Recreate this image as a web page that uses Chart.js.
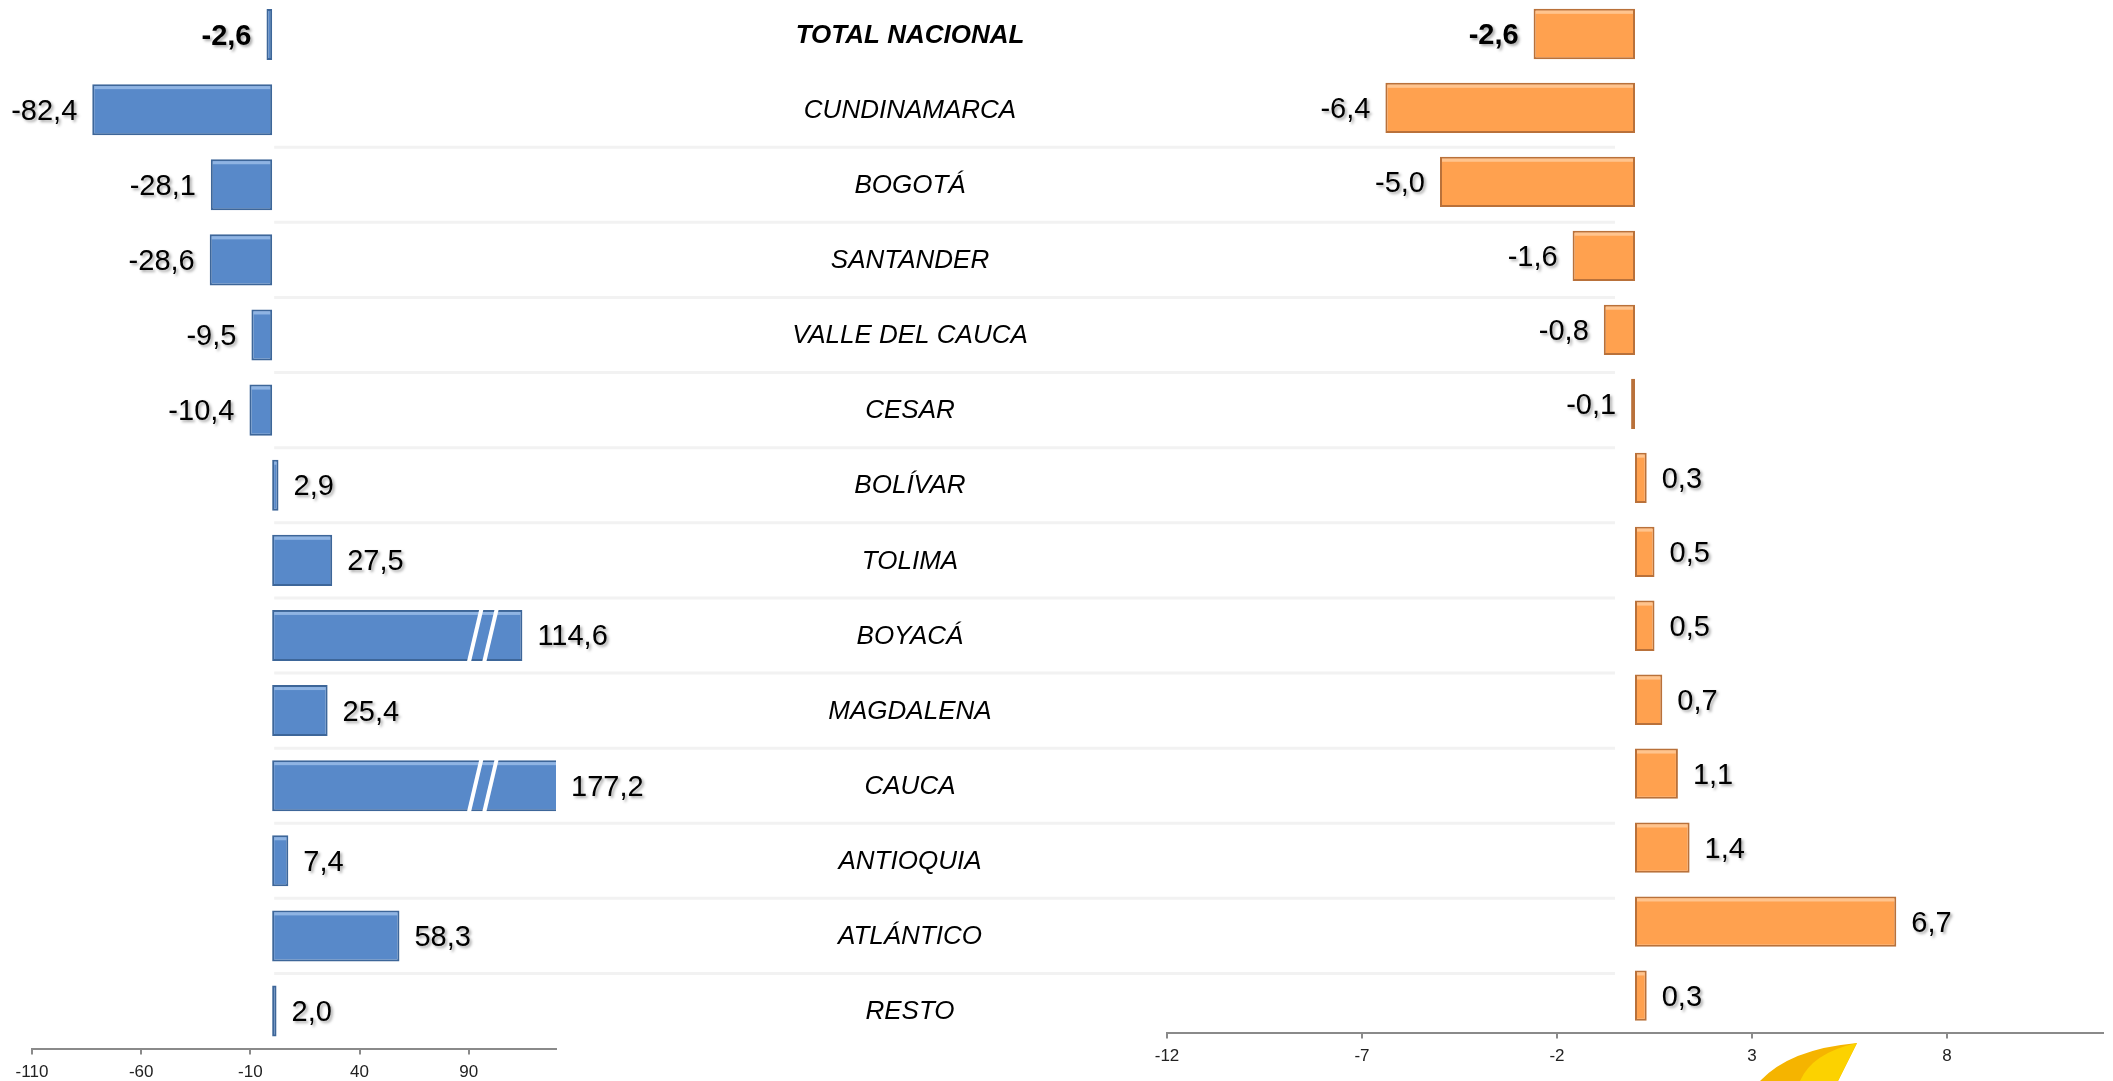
<!DOCTYPE html>
<html>
<head>
<meta charset="utf-8">
<script src="https://cdn.jsdelivr.net/npm/chart.js@4.4.1/dist/chart.umd.min.js"></script>
<style>
  html, body { margin: 0; padding: 0; background: #fff; overflow: hidden; }
  body { width: 2113px; height: 1081px; position: relative; }
  #leftChart  { position: absolute; left: 0;      top: -3px; }
  #rightChart { position: absolute; left: 1100px; top: -3px; }
</style>
</head>
<body>
<canvas id="leftChart"  width="1640" height="1094"></canvas>
<canvas id="rightChart" width="1013" height="1084"></canvas>

<script>
// ── Data ─────────────────────────────────────────────
const categories   = ["TOTAL NACIONAL", "CUNDINAMARCA", "BOGOTÁ", "SANTANDER", "VALLE DEL CAUCA", "CESAR",
                      "BOLÍVAR", "TOLIMA", "BOYACÁ", "MAGDALENA", "CAUCA", "ANTIOQUIA", "ATLÁNTICO", "RESTO"];
const variacion    = [-2.6, -82.4, -28.1, -28.6, -9.5, -10.4, 2.9, 27.5, 114.6, 25.4, 177.2, 7.4, 58.3, 2.0];
const contribucion = [-2.6, -6.4, -5.0, -1.6, -0.8, -0.1, 0.3, 0.5, 0.5, 0.7, 1.1, 1.4, 6.7, 0.3];
const leftTicks    = [-110, -60, -10, 40, 90];
const rightTicks   = [-12, -7, -2, 3, 8];
const brokenBars   = ["BOYACÁ", "CAUCA"];

const BLUE     = "#5889c9";
const BLUE_B   = "#3d6699";
const BLUE_HI  = "#8fb4e3";
const ORANGE   = "#ffa14f";
const ORANGE_B = "#b9713a";
const ORANGE_HI = "#ffc48e";
const FONT = "'Liberation Sans', Arial, sans-serif";

const fmt = v => v.toFixed(1).replace(".", ",");

// ticks exactly at the listed values (no automatic max tick)
const setTicks = list => scale => {
  scale.ticks = list.map(v => ({ value: v }));
};

// ── Value labels with soft shadow ─────────────────────────
const valueLabels = {
  id: "valueLabels",
  afterDatasetsDraw(chart) {
    const ctx  = chart.ctx;
    const area = chart.chartArea;
    const meta = chart.getDatasetMeta(0);
    const data = chart.data.datasets[0].data;
    ctx.save();
    ctx.textBaseline = "middle";
    meta.data.forEach((bar, i) => {
      const v = data[i];
      ctx.font = (i === 0 ? "bold " : "") + "29px " + FONT;
      ctx.shadowColor = "rgba(0,0,0,0.35)";
      ctx.shadowOffsetX = 2;
      ctx.shadowOffsetY = 2;
      ctx.shadowBlur = 3;
      ctx.fillStyle = "#000";
      const end = Math.max(area.left, Math.min(bar.x, area.right));
      if (v < 0) {
        ctx.textAlign = "right";
        ctx.fillText(fmt(v), end - 15, bar.y + 2);
      } else {
        ctx.textAlign = "left";
        ctx.fillText(fmt(v), end + 15, bar.y + 2);
      }
    });
    ctx.restore();
  }
};

// ── Bevel highlight on top edge of each bar ──────────────
const bevel = {
  id: "bevel",
  afterDatasetsDraw(chart) {
    const ctx  = chart.ctx;
    const area = chart.chartArea;
    const ds   = chart.data.datasets[0];
    ctx.save();
    ctx.beginPath();
    ctx.rect(area.left, area.top, area.right - area.left, area.bottom - area.top);
    ctx.clip();
    ctx.fillStyle = ds.highlight;
    chart.getDatasetMeta(0).data.forEach(bar => {
      const l = Math.min(bar.x, bar.base) + 2;
      const r = Math.max(bar.x, bar.base) - 2;
      if (r - l < 2) return;
      ctx.fillRect(l, bar.y - bar.height / 2 + 2, r - l, 3);
    });
    ctx.restore();
  }
};

// ── Category names in the middle + faint row separators ──
const middleLabels = {
  id: "middleLabels",
  beforeDatasetsDraw(chart) {
    const ctx = chart.ctx;
    const y   = chart.scales.y;
    const x0  = chart.scales.x.getPixelForValue(0);
    const band = y.getPixelForValue(1) - y.getPixelForValue(0);
    ctx.save();
    ctx.strokeStyle = "#f2f2f2";
    ctx.lineWidth = 3;
    for (let i = 1; i < categories.length - 1; i++) {
      const yy = y.getPixelForValue(i) + band / 2;
      ctx.beginPath();
      ctx.moveTo(x0 + 2, yy);
      ctx.lineTo(1615, yy);
      ctx.stroke();
    }
    ctx.restore();
  },
  afterDraw(chart) {
    const ctx = chart.ctx;
    const y   = chart.scales.y;
    ctx.save();
    ctx.fillStyle = "#000";
    ctx.textAlign = "center";
    ctx.textBaseline = "middle";
    categories.forEach((c, i) => {
      ctx.font = (i === 0 ? "bold italic " : "italic ") + "26px " + FONT;
      ctx.fillText(c, 910, y.getPixelForValue(i) + 1);
    });
    ctx.restore();
  }
};

// ── White "//" break marks on the out-of-range bars ──────
const breakMarks = {
  id: "breakMarks",
  afterDatasetsDraw(chart) {
    const ctx  = chart.ctx;
    const meta = chart.getDatasetMeta(0);
    const xs   = chart.scales.x;
    ctx.save();
    ctx.strokeStyle = "#fff";
    ctx.lineWidth = 4;
    brokenBars.forEach(name => {
      const bar = meta.data[categories.indexOf(name)];
      const h = bar.height / 2 + 2;
      [90, 97].forEach(v => {
        const px = xs.getPixelForValue(v);
        ctx.beginPath();
        ctx.moveTo(px, bar.y + h);
        ctx.lineTo(px + 13, bar.y - h);
        ctx.stroke();
      });
    });
    ctx.restore();
  }
};

// ── Small yellow logo piece at the bottom ────────────────
const logo = {
  id: "logo",
  afterDraw(chart) {
    const ctx = chart.ctx;
    ctx.save();
    ctx.fillStyle = "#f5b400";
    ctx.beginPath();
    ctx.moveTo(660, 1084);
    ctx.quadraticCurveTo(690, 1052, 757, 1046);
    ctx.lineTo(738, 1084);
    ctx.closePath();
    ctx.fill();
    ctx.fillStyle = "#fcd200";
    ctx.beginPath();
    ctx.moveTo(700, 1084);
    ctx.quadraticCurveTo(712, 1056, 757, 1046);
    ctx.lineTo(738, 1084);
    ctx.closePath();
    ctx.fill();
    ctx.restore();
  }
};

function xScale(min, max, ticks) {
  return {
    type: "linear",
    min, max,
    afterBuildTicks: setTicks(ticks),
    ticks: { color: "#222", font: { size: 17, family: FONT }, padding: 8, maxRotation: 0, autoSkip: false },
    grid: { drawOnChartArea: false, drawTicks: true, tickLength: 6, color: "#8a8a8a", lineWidth: 2 },
    border: { display: true, color: "#8a8a8a", width: 2 },
  };
}

function barOptions(pad) {
  return {
    indexAxis: "y",
    responsive: false,
    animation: false,
    layout: { padding: pad },
    plugins: { legend: { display: false }, tooltip: { enabled: false } },
  };
}

// ── Left: variación ──────────────────────────────────────
const leftOpts = barOptions({ left: 32, right: 1084, top: 0, bottom: 0 });
leftOpts.scales = { x: xScale(-110, 130, leftTicks), y: { display: false } };

new Chart(document.getElementById("leftChart"), {
  type: "bar",
  data: {
    labels: categories,
    datasets: [{
      data: variacion,
      backgroundColor: BLUE,
      borderColor: BLUE_B,
      highlight: BLUE_HI,
      borderWidth: 2,
      borderSkipped: false,
      barPercentage: 0.68,
      categoryPercentage: 1,
    }],
  },
  options: leftOpts,
  plugins: [middleLabels, bevel, breakMarks, valueLabels],
});

// ── Right: contribución ──────────────────────────────────
const rightOpts = barOptions({ left: 67, right: 10, top: 0, bottom: 6 });
rightOpts.scales = { x: xScale(-12, 12, rightTicks), y: { display: false } };

new Chart(document.getElementById("rightChart"), {
  type: "bar",
  data: {
    labels: categories,
    datasets: [{
      data: contribucion,
      backgroundColor: ORANGE,
      borderColor: ORANGE_B,
      highlight: ORANGE_HI,
      borderWidth: 2,
      borderSkipped: false,
      barPercentage: 0.68,
      categoryPercentage: 1,
    }],
  },
  options: rightOpts,
  plugins: [bevel, valueLabels, logo],
});
</script>
</body>
</html>
